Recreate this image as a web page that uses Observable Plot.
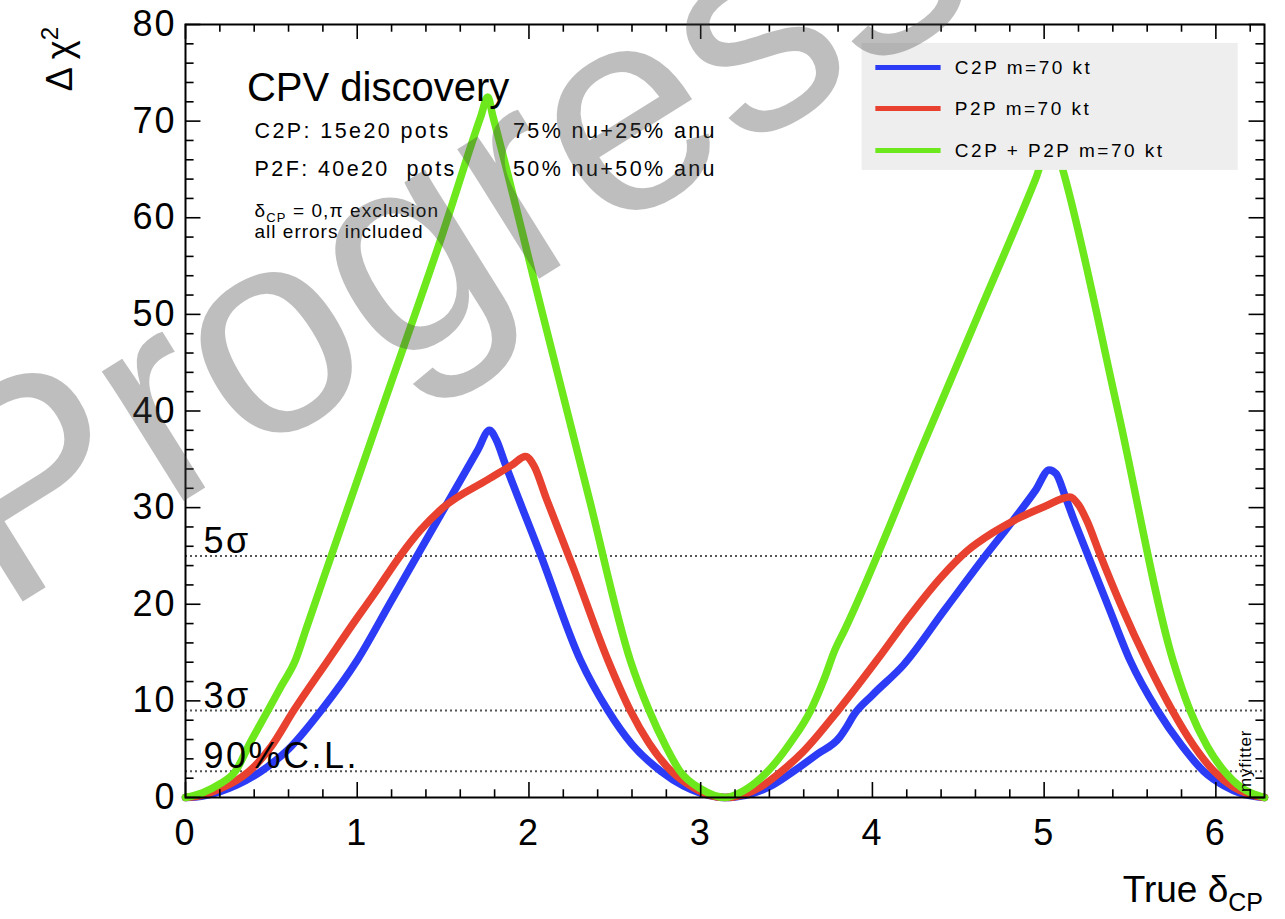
<!DOCTYPE html>
<html><head><meta charset="utf-8">
<script src="https://cdn.jsdelivr.net/npm/d3@7"></script>
<script src="https://cdn.jsdelivr.net/npm/@observablehq/plot@0.6"></script>
<style>
html,body{margin:0;padding:0;background:#fff;}
#chart svg{display:block;}
</style></head><body><div id="chart"></div>
<script>
// ---- data ----
const seriesNames = ["C2P m=70 kt", "P2P m=70 kt", "C2P + P2P m=70 kt"];
const seriesColors = ["#2b3bf6", "#e8412f", "#6de81d"];

const c2pX = [0, 0.1, 0.2, 0.3, 0.44, 0.6, 0.79, 1.0, 1.2, 1.4, 1.6, 1.7, 1.77, 1.81, 1.86, 2.07, 2.3, 2.46, 2.6, 2.77, 2.9, 3.0, 3.1, 3.1416, 3.2, 3.3, 3.42, 3.54, 3.68, 3.81, 3.85, 3.89, 4.0, 4.18, 4.42, 4.67, 4.82, 4.95, 5.03, 5.07, 5.12, 5.17, 5.25, 5.38, 5.5, 5.66, 5.8, 5.93, 6.05, 6.15, 6.2832];
const c2pY = [0, 0.15, 0.6, 1.3, 2.7, 5.0, 9.0, 14.2, 20.4, 26.6, 32.8, 35.9, 38.0, 37.0, 34.6, 25.0, 14.2, 9.0, 5.5, 2.7, 1.2, 0.45, 0.05, 0, 0.05, 0.4, 1.3, 2.7, 4.5, 6.25, 7.3, 8.5, 10.6, 13.7, 19.4, 25.3, 28.7, 31.8, 33.9, 33.5, 31.3, 28.9, 25.3, 19.5, 14.2, 9.0, 5.4, 2.7, 1.2, 0.4, 0];

const p2pX = [0, 0.1, 0.2, 0.3, 0.37, 0.5, 0.63, 0.83, 1.0, 1.1, 1.25, 1.37, 1.5, 1.76, 1.9, 1.98, 2.03, 2.1, 2.26, 2.46, 2.59, 2.7, 2.83, 2.95, 3.05, 3.1416, 3.25, 3.35, 3.47, 3.6, 3.8, 4.03, 4.2, 4.4, 4.55, 4.7, 4.85, 5.0, 5.15, 5.2, 5.25, 5.32, 5.45, 5.6, 5.74, 5.87, 5.99, 6.1, 6.2, 6.2832];
const p2pY = [0, 0.25, 0.9, 1.8, 2.7, 5.3, 9.0, 14.2, 18.6, 21.1, 25.0, 27.7, 30.0, 32.9, 34.4, 35.3, 34.3, 31.0, 23.7, 14.2, 9.0, 5.6, 2.7, 1.1, 0.25, 0, 0.3, 1.1, 2.7, 4.8, 9.0, 14.3, 18.4, 22.8, 25.5, 27.4, 28.9, 30.1, 31.1, 30.3, 28.6, 25.4, 19.8, 14.0, 9.2, 5.4, 2.7, 1.1, 0.3, 0];

const combX = [0, 0.1, 0.2, 0.29, 0.38, 0.48, 0.56, 0.64, 0.7, 0.8, 1.14, 1.5, 1.72, 1.76, 1.79, 2.08, 2.35, 2.59, 2.7, 2.8, 2.88, 3.0, 3.1416, 3.25, 3.39, 3.52, 3.64, 3.72, 3.78, 3.84, 4.3, 4.62, 4.95, 5.05, 5.11, 5.43, 5.75, 5.85, 5.95, 6.05, 6.15, 6.2832];
const combY = [0, 0.5, 1.4, 2.7, 5.8, 9.0, 11.6, 14.2, 17.3, 22.5, 40, 58.5, 70.5, 72.5, 70.5, 50, 31, 14.2, 9.0, 5.2, 2.7, 0.9, 0, 0.7, 2.7, 5.6, 9.0, 12.3, 15.2, 17.4, 36.7, 50.1, 64.0, 68.5, 64.9, 40, 14.2, 9.0, 5.3, 2.7, 1.0, 0];

const clLevels = [25, 9, 2.71];
const clLabels = ["5σ", "3σ", "90%C.L."];

const xMajorTicks = [0, 1, 2, 3, 4, 5, 6];
const xTickLabels = ["0", "1", "2", "3", "4", "5", "6"];
const xMinorTicks = [0.2,0.4,0.6,0.8,1.2,1.4,1.6,1.8,2.2,2.4,2.6,2.8,3.2,3.4,3.6,3.8,4.2,4.4,4.6,4.8,5.2,5.4,5.6,5.8,6.2];
const yMajorTicks = [0, 10, 20, 30, 40, 50, 60, 70, 80];
const yTickLabels = ["0", "10", "20", "30", "40", "50", "60", "70", "80"];
const yMinorTicks = [2,4,6,8,12,14,16,18,22,24,26,28,32,34,36,38,42,44,46,48,52,54,56,58,62,64,66,68,72,74,76,78];

const watermarkText = "Progress";

const XMAX = 2 * Math.PI;
const toRows = (xs, ys) => xs.map((x, i) => ({x, y: ys[i]}));
const c2p = toRows(c2pX, c2pY), p2p = toRows(p2pX, p2pY), comb = toRows(combX, combY);
const legendRows = [75.55, 71.3, 66.96];

const lineOpts = {x: "x", y: "y", strokeWidth: 7.5, curve: "monotone-x", strokeLinejoin: "round", strokeLinecap: "round"};
const font = "'Liberation Sans', Arial, Helvetica, sans-serif";

const chart = Plot.plot({
  width: 1285, height: 919,
  marginLeft: 185, marginRight: 21, marginTop: 24, marginBottom: 122,
  x: {domain: [0, XMAX], axis: null},
  y: {domain: [0, 80], axis: null},
  style: {fontFamily: font, background: "white", color: "black"},
  marks: [
    Plot.ruleY(clLevels, {y: d => d, stroke: "#555", strokeWidth: 2, strokeDasharray: "2,3"}),
    Plot.line(c2p, {...lineOpts, stroke: seriesColors[0]}),
    Plot.line(p2p, {...lineOpts, stroke: seriesColors[1]}),
    Plot.line(comb, {...lineOpts, stroke: seriesColors[2]}),
    // ticks (inside, all four sides)
    Plot.ruleX(xMajorTicks, {x: d => d, y1: 0, y2: 1.55, stroke: "black", strokeWidth: 1.6}),
    Plot.ruleX(xMinorTicks, {x: d => d, y1: 0, y2: 0.8, stroke: "black", strokeWidth: 1.6}),
    Plot.ruleX(xMajorTicks, {x: d => d, y1: 80, y2: 78.45, stroke: "black", strokeWidth: 1.6}),
    Plot.ruleX(xMinorTicks, {x: d => d, y1: 80, y2: 79.2, stroke: "black", strokeWidth: 1.6}),
    Plot.ruleY(yMajorTicks, {y: d => d, x1: 0, x2: 0.09, stroke: "black", strokeWidth: 1.6}),
    Plot.ruleY(yMinorTicks, {y: d => d, x1: 0, x2: 0.05, stroke: "black", strokeWidth: 1.6}),
    Plot.ruleY(yMajorTicks, {y: d => d, x1: XMAX, x2: XMAX - 0.09, stroke: "black", strokeWidth: 1.6}),
    Plot.ruleY(yMinorTicks, {y: d => d, x1: XMAX, x2: XMAX - 0.05, stroke: "black", strokeWidth: 1.6}),
    Plot.frame({stroke: "black", strokeWidth: 2}),
    // tick labels
    Plot.text(xMajorTicks, {x: d => d, y: 0, text: (d, i) => xTickLabels[i], lineAnchor: "top", dy: 22, fontSize: 36}),
    Plot.text(yMajorTicks, {x: 0, y: d => d, text: (d, i) => yTickLabels[i], textAnchor: "end", lineAnchor: "middle", dx: -9, fontSize: 36}),
    // confidence level labels
    Plot.text(clLevels, {x: 0.105, y: d => d, text: (d, i) => clLabels[i], textAnchor: "start", lineAnchor: "bottom", dy: -3, fontSize: 36}),
    // legend
    Plot.rect([0], {x1: 3.94, x2: 6.13, y1: 64.9, y2: 78.05, fill: "#eeeeee"}),
    Plot.ruleY(legendRows, {y: d => d, x1: 4.02, x2: 4.40, stroke: (d, i) => seriesColors[i], strokeWidth: 5}),
    Plot.text(legendRows, {x: 4.48, y: d => d, text: (d, i) => seriesNames[i], textAnchor: "start", lineAnchor: "middle", fontSize: 19}),
    // watermark
    Plot.text([watermarkText], {x: 1.8, y: 50.8, text: d => d, rotate: -32, textAnchor: "middle", lineAnchor: "bottom", fontSize: 290, fill: "#444", fillOpacity: 0.35})
  ]
});
document.getElementById("chart").appendChild(chart);

const svg = d3.select(chart);
// letter spacing like the ROOT rendering
const spacing = new Map([
  ...xTickLabels.map(t => [t, "2px"]), ...yTickLabels.map(t => [t, "2px"]),
  ...clLabels.map(t => [t, "2.5px"]), ...seriesNames.map(t => [t, "2.5px"])
]);
svg.selectAll("text").each(function() {
  const s = spacing.get(this.textContent);
  if (s) this.style.letterSpacing = s;
});

// rich-text annotations (sub/superscripts)
const sx = v => chart.scale("x").apply(v), sy = v => chart.scale("y").apply(v);
const ann = svg.append("g").attr("font-family", font).attr("fill", "black").attr("text-anchor", "start");

ann.append("text").attr("x", sx(0.361)).attr("y", sy(72.03)).attr("font-size", 40).text("CPV discovery");
const info = [
  [0.405, 68.18, "C2P: 15e20 pots"], [1.91, 68.18, "75% nu+25% anu"],
  [0.405, 64.25, "P2F: 40e20  pots"], [1.91, 64.25, "50% nu+50% anu"]
];
info.forEach(([x, y, t]) => ann.append("text").attr("x", sx(x)).attr("y", sy(y)).attr("font-size", 21.5)
  .style("letter-spacing", "2.4px").style("white-space", "pre").text(t));
const d1 = ann.append("text").attr("x", sx(0.405)).attr("y", sy(60.0)).attr("font-size", 19).style("letter-spacing", "1.1px");
d1.append("tspan").text("δ");
d1.append("tspan").attr("font-size", 13).attr("dy", 5).text("CP");
d1.append("tspan").attr("dy", -5).text(" = 0,π exclusion");
ann.append("text").attr("x", sx(0.405)).attr("y", sy(57.9)).attr("font-size", 19).style("letter-spacing", "1px").text("all errors included");

// y title
const yt = ann.append("text").attr("transform", `translate(72,27) rotate(-90)`).attr("text-anchor", "end").attr("font-size", 36);
yt.append("tspan").text("Δ χ");
yt.append("tspan").attr("font-size", 24).attr("dy", -14).text("2");
// x title
const xt = ann.append("text").attr("x", 1263).attr("y", 902).attr("text-anchor", "end").attr("font-size", 37);
xt.append("tspan").text("True δ");
xt.append("tspan").attr("font-size", 25).attr("dy", 9).text("CP");
// myfitter
ann.append("text").attr("transform", `translate(1251,792) rotate(-90)`).attr("font-size", 17).style("letter-spacing", "0.8px").text("myfitter");

// keep watermark on top of everything
svg.selectAll("text").each(function() {
  if (this.textContent === watermarkText) chart.appendChild(this.parentNode);
});
</script></body></html>
